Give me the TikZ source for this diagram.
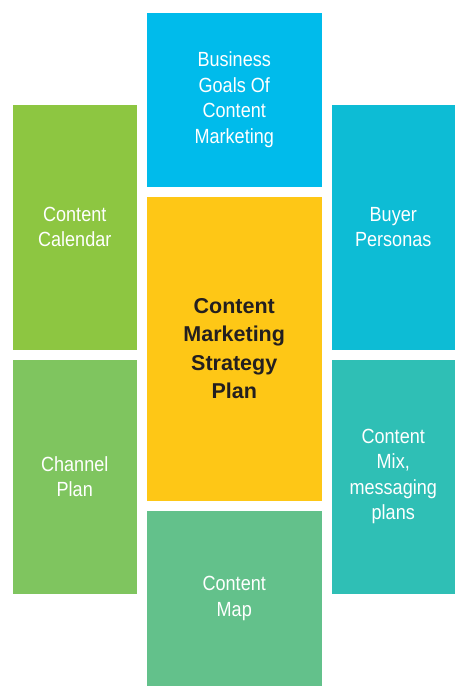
\documentclass[tikz,border=0pt]{standalone}
\usepackage{fontspec}
\setmainfont{Liberation Sans}[FakeStretch=0.88]
\newfontfamily\boldface{Liberation Sans}[BoldFont={Liberation Sans Bold}]
\usepackage{xcolor}
\definecolor{goalblue}{HTML}{00BBEB}
\definecolor{calgreen}{HTML}{8DC641}
\definecolor{personacyan}{HTML}{0DBCD5}
\definecolor{channelgreen}{HTML}{7FC55F}
\definecolor{mixteal}{HTML}{2FBFB5}
\definecolor{mapgreen}{HTML}{63C18B}
\definecolor{planyellow}{HTML}{FEC716}
\definecolor{plantext}{HTML}{231F20}

\begin{document}
\begin{tikzpicture}[x=1pt, y=-1pt,
	tile/.style={inner sep=0pt, align=center, text=white, font=\fontsize{20.5}{25.5}\selectfont},
	side/.style={tile, minimum width=123.5pt},
	mid/.style={tile, minimum width=174.5pt}]
	\useasboundingbox (0,0) rectangle (468,697);

	\node [mid, minimum height=174pt, fill=goalblue] (goals) at (234.25,99.5) {Business\\Goals Of\\Content\\Marketing};
	\node [side, minimum height=245pt, fill=calgreen] (calendar) at (74.75,227) {Content\\Calendar};
	\node [side, minimum height=245pt, fill=personacyan] (personas) at (393.25,227) {Buyer\\Personas};
	\node [mid, minimum height=304.5pt, fill=planyellow, text=plantext,
		font=\boldface\bfseries\fontsize{21.5}{28.5}\selectfont] (plan) at (234.25,348.75) {Content\\Marketing\\Strategy\\Plan};
	\node [side, minimum height=234pt, fill=channelgreen] (channel) at (74.75,476.5) {Channel\\Plan};
	\node [side, minimum height=234pt, fill=mixteal] (mix) at (393.25,476.5) {Content\\Mix,\\messaging\\plans};
	\node [mid, minimum height=174.5pt, fill=mapgreen] (map) at (234.25,598.25) {Content\\Map};
\end{tikzpicture}
\end{document}
